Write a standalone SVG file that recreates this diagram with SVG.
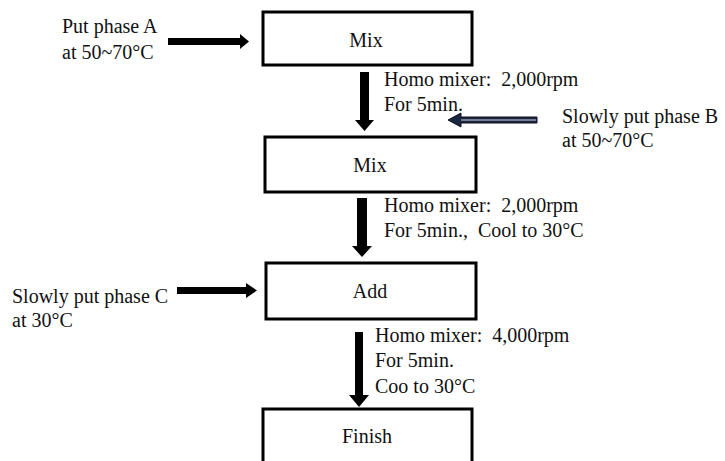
<svg xmlns="http://www.w3.org/2000/svg" width="725" height="461" viewBox="0 0 725 461">
<style>
text{font-family:"Liberation Serif","Times New Roman","DejaVu Serif",serif;font-size:20px;fill:#111;white-space:pre}
.box{fill:#fff;stroke:#000;stroke-width:3}
.c{text-anchor:middle}
.arr{fill:#000}
</style>
<rect width="725" height="461" fill="#fff"/>
<g id="n1"><rect class="box" x="263" y="12" width="209" height="53"/><text class="c" x="366" y="47">Mix</text></g>
<g id="n2"><rect class="box" x="265" y="137" width="211" height="55"/><text class="c" x="370" y="172">Mix</text></g>
<g id="n3"><rect class="box" x="266" y="263" width="210" height="56"/><text class="c" x="370" y="298">Add</text></g>
<g id="n4"><rect class="box" x="263" y="409" width="209" height="70"/><text class="c" x="367" y="443">Finish</text></g>
<g id="inA"><text x="62" y="33">Put phase A</text><text x="62" y="59">at 50~70°C</text></g>
<g id="inB"><text x="562" y="123">Slowly put phase B</text><text x="562" y="147">at 50~70°C</text></g>
<g id="inC"><text x="12" y="303">Slowly put phase C</text><text x="12" y="327">at 30°C</text></g>
<g id="labels">
<text x="384" y="86" xml:space="preserve">Homo mixer:  2,000rpm</text><text x="384" y="111">For 5min.</text>
<text x="384" y="212" xml:space="preserve">Homo mixer:  2,000rpm</text><text x="384" y="237" xml:space="preserve">For 5min.,  Cool to 30°C</text>
<text x="375" y="342" xml:space="preserve">Homo mixer:  4,000rpm</text><text x="375" y="367">For 5min.</text><text x="375" y="393">Coo to 30°C</text>
</g>
<g id="connectors">
<polygon class="arr" points="360,72 369,72 369,120 374,120 364.5,131 355,120 360,120"/>
<polygon class="arr" points="357,198 367,198 367,246 372,246 362,257 352,246 357,246"/>
<polygon class="arr" points="355,332 363,332 363,395 369,395 359,407 349,395 355,395"/>
<polygon class="arr" points="168,38 240,38 240,34 249,41.5 240,49 240,45 168,45"/>
<polygon class="arr" points="177,287 246,287 246,283 257,290.5 246,298 246,294 177,294"/>
<polygon points="537,117 461,117 461,113 448,120 461,127 461,123 537,123" fill="#1c2540" stroke="#0d1326" stroke-width="1"/>
<line x1="461" y1="120" x2="536" y2="120" stroke="#c9d2e6" stroke-width="1.2"/>
</g>
</svg>
